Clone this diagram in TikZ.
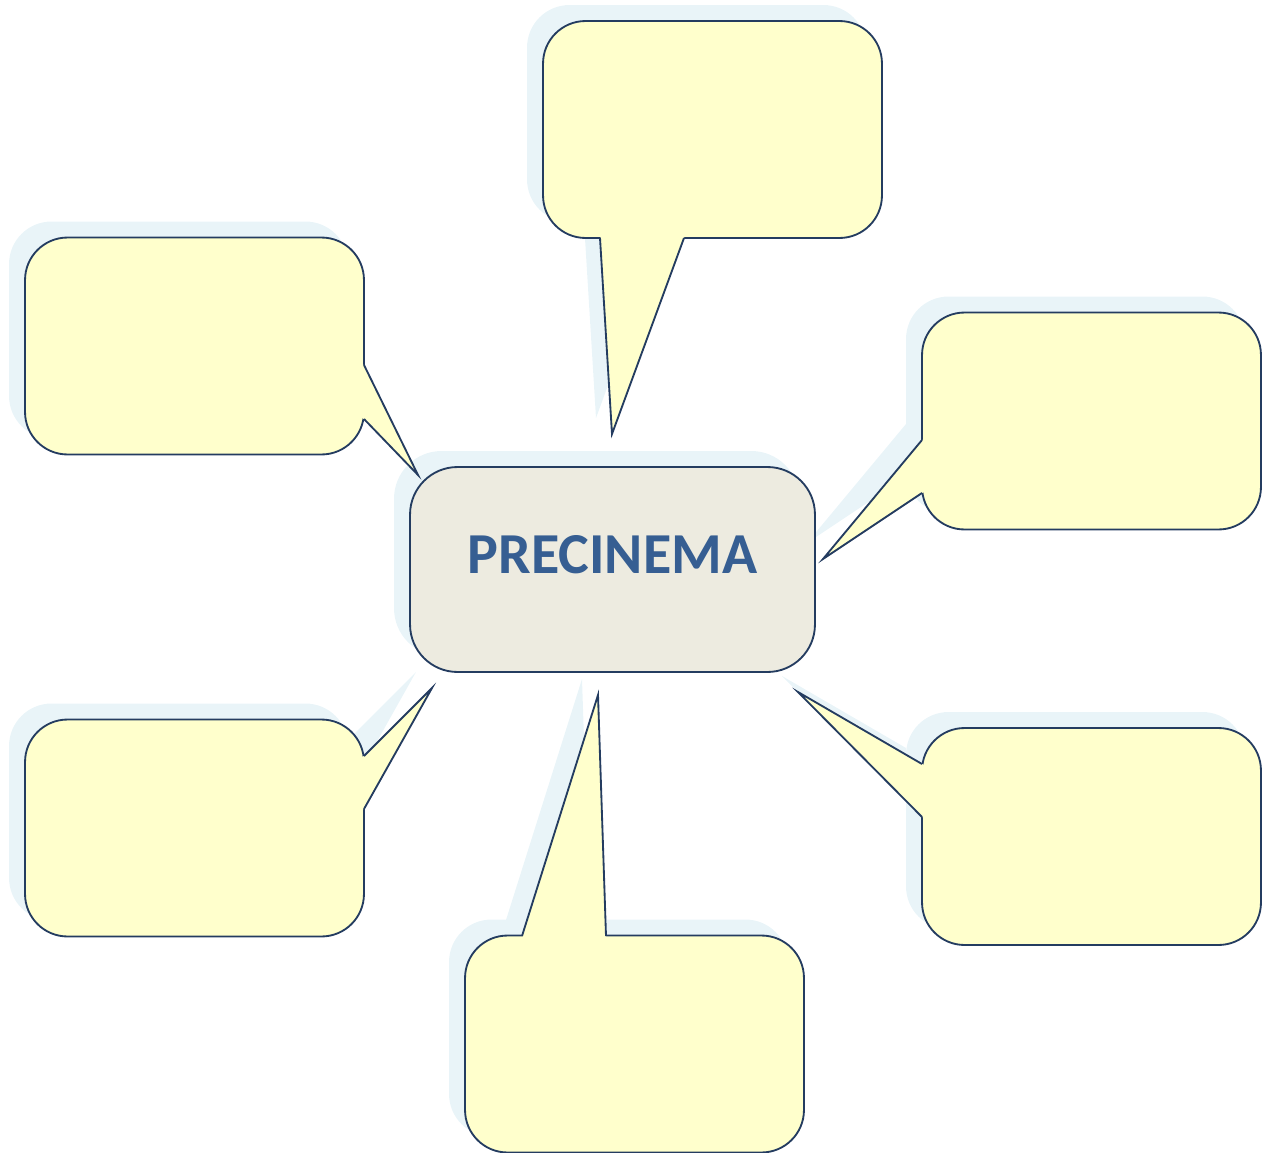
\documentclass[tikz,border=0pt]{standalone}
\usepackage{fontspec}
\setmainfont{Carlito}
\usetikzlibrary{shadows}

\definecolor{bubblefill}{RGB}{255,255,204}
\definecolor{bubbleline}{RGB}{36,60,96}
\definecolor{shadowblue}{RGB}{233,244,248}
\definecolor{hubfill}{RGB}{237,235,224}
\definecolor{hubtext}{RGB}{54,94,146}

\begin{document}
\begin{tikzpicture}[
    x=0.02cm, y=-0.02cm,
    bubble/.style={draw=bubbleline, fill=bubblefill, rectangle, line width=1.05pt, rounded corners=0.85cm, minimum width=6.78cm, minimum height=4.34cm, drop shadow={shadow xshift=-0.32cm, shadow yshift=0.32cm, fill=shadowblue, opacity=1}},
    hub/.style={bubble, fill=hubfill, rounded corners=0.95cm, minimum width=8.1cm, minimum height=4.1cm, text=hubtext, font=\fontsize{33}{36}\selectfont\bfseries, text height=0.76cm, text depth=0.62cm},
    tailfill/.style={fill=bubblefill},
    tailshade/.style={fill=shadowblue},
    tailline/.style={draw=bubbleline, line width=1.05pt, line join=miter}
]
\useasboundingbox (0,0) rectangle (1265,1153);

% shadows of the tails
\begin{scope}[shift={(-16,-16)}]
\fill[tailshade] (600,238) -- (612,434) -- (684,238) -- cycle;
\fill[tailshade] (364,365) -- (418,475) -- (364,419) -- cycle;
\fill[tailshade] (922,440) -- (823,559) -- (922,493) -- cycle;
\fill[tailshade] (364,756) -- (432,688) -- (364,809) -- cycle;
\fill[tailshade] (522,936) -- (598,695) -- (606,936) -- cycle;
\fill[tailshade] (922,764) -- (798,692) -- (922,817) -- cycle;
\end{scope}

\node[bubble] (top) at (712.5,129.5) {};
\node[bubble] (lefttop) at (194.5,346) {};
\node[bubble] (right) at (1091.5,421) {};
\node[bubble] (leftbot) at (194.5,828) {};
\node[bubble] (bottom) at (634.5,1044) {};
\node[bubble] (rightbot) at (1091.5,836.5) {};
\node[hub] (hub) at (612.5,569.5) {PRECINEMA};

\coordinate (toptip) at (612,434);
\coordinate (lefttoptip) at (418,475);
\coordinate (righttip) at (823,559);
\coordinate (leftbottip) at (432,688);
\coordinate (bottomtip) at (598,695);
\coordinate (rightbottip) at (798,692);

% tails
\fill[tailfill] (600,238) -- (toptip) -- (684,238) -- (top.center) -- cycle;
\draw[tailline] (600,238) -- (toptip) -- (684,238);
\fill[tailfill] (364,365) -- (lefttoptip) -- (364,419) -- (lefttop.center) -- cycle;
\draw[tailline] (364,365) -- (lefttoptip) -- (364,419);
\fill[tailfill] (922,440) -- (righttip) -- (922,493) -- (right.center) -- cycle;
\draw[tailline] (922,440) -- (righttip) -- (922,493);
\fill[tailfill] (364,756) -- (leftbottip) -- (364,809) -- (leftbot.center) -- cycle;
\draw[tailline] (364,756) -- (leftbottip) -- (364,809);
\fill[tailfill] (522,936) -- (bottomtip) -- (606,936) -- (bottom.center) -- cycle;
\draw[tailline] (522,936) -- (bottomtip) -- (606,936);
\fill[tailfill] (922,764) -- (rightbottip) -- (922,817) -- (rightbot.center) -- cycle;
\draw[tailline] (922,764) -- (rightbottip) -- (922,817);
\end{tikzpicture}
\end{document}
